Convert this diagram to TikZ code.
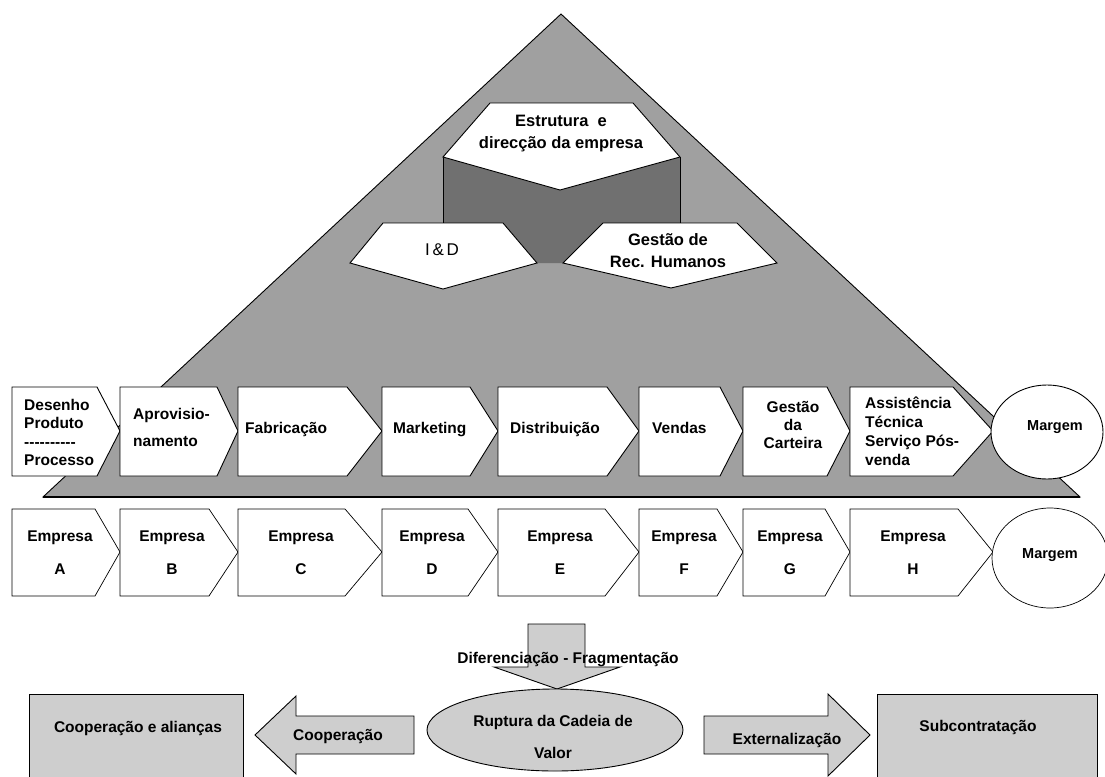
\documentclass[tikz,border=0pt]{standalone}
\usepackage{fontspec}
\setmainfont{Liberation Sans}
\definecolor{pyrgray}{RGB}{160,160,160}
\definecolor{darkface}{RGB}{112,112,112}
\definecolor{lightfill}{RGB}{206,206,206}
\begin{document}
\begin{tikzpicture}[x=1pt,y=-1pt,
  outline/.style={draw=black,line width=0.9pt},
  stepbox/.style={outline,fill=white},
  txt/.style={inner sep=0pt,font=\fontsize{15.5}{18}\selectfont\bfseries},
  toptxt/.style={inner sep=0pt,align=center,font=\fontsize{16.5}{22}\selectfont\bfseries},
  bluntarrow/.style={outline,fill=lightfill}]
\useasboundingbox (0,0) rectangle (1105,776);
\clip (0,0) rectangle (1105,776);

% pyramid
\draw[outline,fill=pyrgray] (561,14) -- (1080,497) -- (43,497) -- cycle;
\draw[line width=2pt] (43,497) -- (1080,497);

% support activities
\fill[darkface] (443,157) -- (560,190) -- (680,157) -- (680,223) -- (603,223)
  -- (563,263) -- (537,263) -- (503,223) -- (443,223) -- cycle;
\draw[outline] (443,157) -- (443,223);
\draw[outline] (680,157) -- (680,223);
\draw[stepbox] (490,103) -- (633,103) -- (680,157) -- (560,190) -- (443,157) -- cycle;
\node[toptxt] (estr) at (561,134) {Estrutura \ e\\direcção da empresa};
\draw[stepbox] (383,223) -- (503,223) -- (537,263) -- (443,289) -- (350,263) -- cycle;
\node[inner sep=0pt,font=\fontsize{17}{20}\selectfont] (id) at (442,250) {I\,\&\,D};
\draw[stepbox] (603,223) -- (737,223) -- (777,263) -- (671,288) -- (563,263) -- cycle;
\node[toptxt] (rh) at (668,251) {Gestão de\\Rec. Humanos};

% primary activities
\foreach \l/\c/\t in {12/97/120, 120/217/238, 238/347/382, 382/470/498,
                      498/607/639, 639/720/743, 743/827/850, 850/953/993}
  \draw[stepbox] (\l,387) -- (\c,387) -- (\t,431) -- (\c,476) -- (\l,476) -- cycle;
\draw[stepbox] (1047,432) ellipse [x radius=56, y radius=47];

\node[txt,align=left,anchor=west] (dp) at (24,432)
  {Desenho\\Produto\\[1pt]-{}-{}-{}-{}-{}-{}-{}-{}-{}-\\Processo};
\node[txt,align=left,anchor=west,font=\fontsize{15.5}{27}\selectfont\bfseries] (apr) at (133,427)
  {Aprovisio-\\namento};
\node[txt,anchor=base west] (fab) at (245,433) {Fabricação};
\node[txt,anchor=base west] (mkt) at (393,433) {Marketing};
\node[txt,anchor=base west] (dist) at (510,433) {Distribuição};
\node[txt,anchor=base west] (vend) at (652,433) {Vendas};
\node[txt,align=center] (cart) at (793,425) {Gestão\\da\\Carteira};
\node[txt,align=left,anchor=west,font=\fontsize{15.5}{19}\selectfont\bfseries] (assist) at (865,431)
  {Assistência\\Técnica\\Serviço Pós-\\venda};
\node[txt,font=\fontsize{14.5}{17}\selectfont\bfseries,anchor=base] (marg1) at (1055,430) {Margem};

% value chain split among firms
\foreach \l/\c/\t in {12/95/120, 120/209/238, 238/345/382, 382/468/498,
                      498/605/639, 639/717/743, 743/825/850, 850/958/993}
  \draw[stepbox,line width=0.7pt] (\l,509) -- (\c,509) -- (\t,552) -- (\c,596) -- (\l,596) -- cycle;
\draw[stepbox,line width=0.7pt] (1050,558) ellipse [x radius=58, y radius=50];
\foreach \x/\n in {60/A, 172/B, 301/C, 432/D, 560/E, 684/F, 790/G, 913/H}
  \node[txt,align=center,font=\fontsize{15.5}{33}\selectfont\bfseries] (emp\n) at (\x,553) {Empresa\\\n};
\node[txt,font=\fontsize{14.5}{17}\selectfont\bfseries,anchor=base] (marg2) at (1050,558) {Margem};

% fragmentation arrow
\draw[bluntarrow] (528,624) -- (585,624) -- (585,667) -- (620,667) -- (557,689)
  -- (494,667) -- (528,667) -- cycle;
\node[txt,anchor=base] (dif) at (568,663) {Diferenciação - Fragmentação};

% outcomes
\draw[outline,fill=lightfill] (29,694) rectangle (243,790);
\node[txt,anchor=base] (coopal) at (138,732) {Cooperação e alianças};
\draw[bluntarrow] (414,716) -- (414,754) -- (296,754) -- (296,774) -- (255,735)
  -- (296,696) -- (296,716) -- cycle;
\node[txt,anchor=base] (coop) at (338,740) {Cooperação};
\draw[outline,fill=lightfill] (555,730) ellipse [x radius=128, y radius=41];
\node[txt,align=center,font=\fontsize{15.5}{32}\selectfont\bfseries] (rupt) at (553,737)
  {Ruptura da Cadeia de\\Valor};
\draw[bluntarrow] (704,716) -- (828,716) -- (828,694) -- (870,735) -- (828,776)
  -- (828,754) -- (704,754) -- cycle;
\node[txt,anchor=base] (ext) at (787,744) {Externalização};
\draw[outline,fill=lightfill] (877,694) rectangle (1097,790);
\node[txt,anchor=base] (sub) at (978,731) {Subcontratação};
\end{tikzpicture}
\end{document}
